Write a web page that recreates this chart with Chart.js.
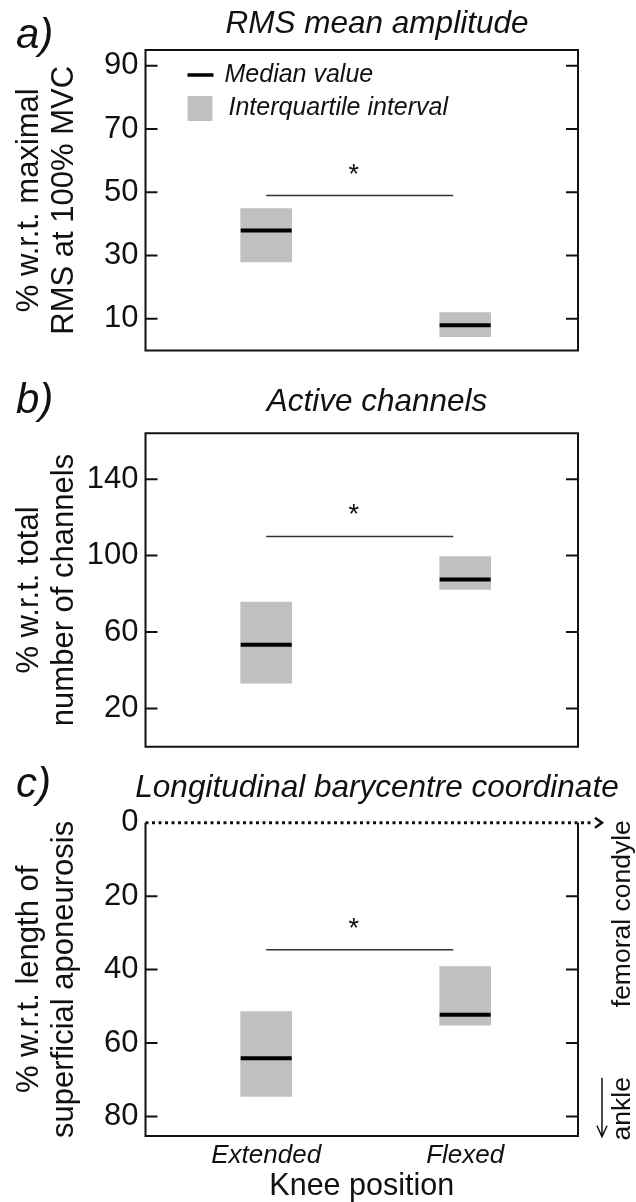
<!DOCTYPE html>
<html>
<head>
<meta charset="utf-8">
<title>Knee position: RMS, active channels, barycentre</title>
<script src="https://cdn.jsdelivr.net/npm/chart.js"></script>
<style>
    body {
        margin: 0;
        background: #fff;
        color: #111;
        font-family: 'Liberation Sans', Arial, sans-serif;
    }
    #page {
        position: relative;
        width: 636px;
        height: 1202px;
        overflow: hidden;
    }
    canvas {
        position: absolute;
        left: 0;
    }
    .lbl {
        position: absolute;
        font-style: italic;
        line-height: 1;
        white-space: nowrap;
    }
    .letter { font-size: 42px; left: 16px; }
    .title { font-size: 31.5px; left: 377px; transform: translateX(-50%); }
</style>
</head>
<body>
<div id="page">
    <canvas id="chartA" width="636" height="380" style="top:0"></canvas>
    <canvas id="chartB" width="636" height="400" style="top:380px"></canvas>
    <canvas id="chartC" width="636" height="422" style="top:780px"></canvas>

    <div class="lbl letter" style="top:13px">a)</div>
    <div class="lbl title" style="top:7px">RMS mean amplitude</div>
    <div class="lbl letter" style="top:378px">b)</div>
    <div class="lbl title" style="top:385px">Active channels</div>
    <div class="lbl letter" style="top:762px">c)</div>
    <div class="lbl title" style="top:771px">Longitudinal barycentre coordinate</div>
</div>

<script>
    const categories = ['Extended', 'Flexed'];
    const catX = [1, 2];
    const legendLabels = ['Median value', 'Interquartile interval'];

    // a) RMS mean amplitude (% of maximal RMS at 100% MVC)
    const rmsQ1 = [28, 4.4];
    const rmsQ3 = [44.9, 12];
    const rmsMedian = [37.9, 8];
    const rmsSig = 49;
    const rmsTicks = [10, 30, 50, 70, 90];

    // b) active channels (% of total number of channels)
    const chQ1 = [33.3, 82.3];
    const chQ3 = [75.7, 99.5];
    const chMedian = [53.4, 87.5];
    const chSig = 110;
    const chTicks = [20, 60, 100, 140];

    // c) longitudinal barycentre (% of superficial aponeurosis length)
    const bcQ1 = [51.4, 39.2];
    const bcQ3 = [74.5, 55.1];
    const bcMedian = [64.1, 52.3];
    const bcSig = 34.6;
    const bcTicks = [0, 20, 40, 60, 80];

    const FONT = '"Liberation Sans", Arial, sans-serif';
    Chart.defaults.font.family = FONT;
    Chart.defaults.color = '#111';

    // significance bar runs from the first group to just short of the second
    const sigFrom = 1, sigTo = 1.94, starX = 1.44;

    const decor = {
        id: 'decor',
        afterDraw(chart, args, o) {
            const {ctx, chartArea: a} = chart;
            const x = chart.scales.x, y = chart.scales.y;
            ctx.save();
            ctx.strokeStyle = '#111';
            ctx.lineWidth = 2;
            ctx.beginPath();
            if (o.dottedTop) {
                ctx.moveTo(a.left, a.top);
                ctx.lineTo(a.left, a.bottom);
                ctx.lineTo(a.right, a.bottom);
                ctx.lineTo(a.right, a.top);
            } else {
                ctx.rect(a.left, a.top, a.right - a.left, a.bottom - a.top);
            }
            // tick marks point inwards on both sides
            y.ticks.forEach(t => {
                const py = y.getPixelForValue(t.value);
                if (Math.abs(py - a.top) < 2) return;
                ctx.moveTo(a.left, py); ctx.lineTo(a.left + 12, py);
                ctx.moveTo(a.right - 12, py); ctx.lineTo(a.right, py);
            });
            ctx.stroke();

            ctx.fillStyle = '#111';
            ctx.font = '27px ' + FONT;
            ctx.textAlign = 'center';
            ctx.textBaseline = 'alphabetic';
            ctx.fillText('*', x.getPixelForValue(starX), y.getPixelForValue(o.sig) - 13);

            if (o.legend) {
                ctx.lineWidth = 3.5;
                ctx.strokeStyle = '#000';
                ctx.beginPath();
                ctx.moveTo(a.left + 42, a.top + 25);
                ctx.lineTo(a.left + 68, a.top + 25);
                ctx.stroke();
                ctx.fillStyle = '#c0c0c0';
                ctx.fillRect(a.left + 42, a.top + 46, 25, 25);
                ctx.fillStyle = '#111';
                ctx.font = 'italic 25px ' + FONT;
                ctx.textAlign = 'left';
                ctx.textBaseline = 'middle';
                ctx.fillText(legendLabels[0], a.left + 79, a.top + 25);
                ctx.fillText(legendLabels[1], a.left + 83, a.top + 58);
            }

            if (o.dottedTop) {
                ctx.strokeStyle = '#111';
                ctx.lineWidth = 3;
                ctx.setLineDash([3, 3.5]);
                ctx.beginPath();
                ctx.moveTo(a.left, a.top);
                ctx.lineTo(a.right + 14, a.top);
                ctx.stroke();
                ctx.setLineDash([]);
                ctx.lineWidth = 2.5;
                ctx.beginPath();
                ctx.moveTo(a.right + 17, a.top - 5);
                ctx.lineTo(a.right + 24, a.top);
                ctx.lineTo(a.right + 17, a.top + 5);
                ctx.stroke();

                // down arrow towards the ankle
                ctx.lineWidth = 1.5;
                ctx.beginPath();
                ctx.moveTo(a.right + 24, a.top + 255);
                ctx.lineTo(a.right + 24, a.top + 314);
                ctx.moveTo(a.right + 19, a.top + 303);
                ctx.lineTo(a.right + 24, a.top + 314);
                ctx.lineTo(a.right + 29, a.top + 303);
                ctx.stroke();

                ctx.font = '26.5px ' + FONT;
                ctx.textAlign = 'center';
                ctx.textBaseline = 'middle';
                ctx.save();
                ctx.translate(a.right + 45, a.top + 91);
                ctx.rotate(-Math.PI / 2);
                ctx.fillText('femoral condyle', 0, 0);
                ctx.restore();
                ctx.save();
                ctx.translate(a.right + 45, a.top + 286);
                ctx.rotate(-Math.PI / 2);
                ctx.fillText('ankle', 0, 0);
                ctx.restore();
            }
            ctx.restore();
        }
    };

    function noPad(s) {
        s.paddingTop = 0; s.paddingBottom = 0;
        s.paddingLeft = 0; s.paddingRight = 0;
    }

    function makePanel(id, q1, q3, med, sig, ticks, yMax, reverse, yTitle, pad, extra) {
        const showX = !!extra.xAxis;
        return new Chart(document.getElementById(id), {
            type: 'bar',
            plugins: [decor],
            data: {
                datasets: [
                    {
                        type: 'bar',
                        data: catX.map((v, i) => ({x: v, y: [q1[i], q3[i]]})),
                        backgroundColor: '#c0c0c0',
                        borderWidth: 0,
                        barThickness: 51,
                        order: 3
                    },
                    {
                        type: 'scatter',
                        data: catX.map((v, i) => ({x: v, y: med[i]})),
                        pointStyle: 'line',
                        pointRadius: 25.5,
                        borderColor: '#000',
                        borderWidth: 4,
                        order: 1
                    },
                    {
                        type: 'line',
                        data: [{x: sigFrom, y: sig}, {x: sigTo, y: sig}],
                        borderColor: '#333',
                        borderWidth: 1.5,
                        pointRadius: 0,
                        order: 2
                    }
                ]
            },
            options: {
                responsive: false,
                animation: false,
                events: [],
                layout: {padding: pad},
                plugins: {
                    legend: {display: false},
                    tooltip: {enabled: false},
                    decor: {sig: sig, legend: !!extra.legend, dottedTop: !!extra.dottedTop}
                },
                scales: {
                    x: {
                        type: 'linear',
                        display: showX,
                        min: 0.3935,
                        max: 2.567,
                        offset: false,
                        grid: {display: false, drawTicks: false},
                        border: {display: false},
                        afterBuildTicks: s => { s.ticks = catX.map(v => ({value: v})); },
                        afterFit: s => { noPad(s); if (showX) s.height = 66; },
                        ticks: {
                            padding: 7,
                            autoSkip: false,
                            maxRotation: 0,
                            font: {size: 26, style: 'italic', lineHeight: 1},
                            callback: v => categories[catX.indexOf(v)]
                        },
                        title: {
                            display: showX,
                            text: 'Knee position',
                            font: {size: 30.5, lineHeight: 1},
                            padding: {top: 0, bottom: 0}
                        }
                    },
                    y: {
                        type: 'linear',
                        position: 'left',
                        min: 0,
                        max: yMax,
                        reverse: reverse,
                        grid: {display: false, drawTicks: false},
                        border: {display: false},
                        afterBuildTicks: s => { s.ticks = ticks.map(v => ({value: v})); },
                        afterFit: s => { noPad(s); s.width = 145.5; },
                        ticks: {
                            padding: 7,
                            autoSkip: false,
                            font: {size: 31},
                            callback: v => String(v)
                        },
                        title: {
                            display: true,
                            text: yTitle,
                            font: {size: 31, lineHeight: 1.16},
                            padding: {top: 11, bottom: 0}
                        }
                    }
                }
            }
        });
    }

    makePanel('chartA', rmsQ1, rmsQ3, rmsMedian, rmsSig, rmsTicks, 95, false,
        ['% w.r.t. maximal', 'RMS at 100% MVC'],
        {top: 50, bottom: 16.7, left: 0, right: 58}, {legend: true});

    makePanel('chartB', chQ1, chQ3, chMedian, chSig, chTicks, 164, false,
        ['% w.r.t. total', 'number of channels'],
        {top: 53.3, bottom: 33.3, left: 0, right: 58}, {});

    makePanel('chartC', bcQ1, bcQ3, bcMedian, bcSig, bcTicks, 85.3, true,
        ['% w.r.t. length of', 'superficial aponeurosis'],
        {top: 42.7, bottom: 0, left: 0, right: 58}, {dottedTop: true, xAxis: true});
</script>
</body>
</html>
